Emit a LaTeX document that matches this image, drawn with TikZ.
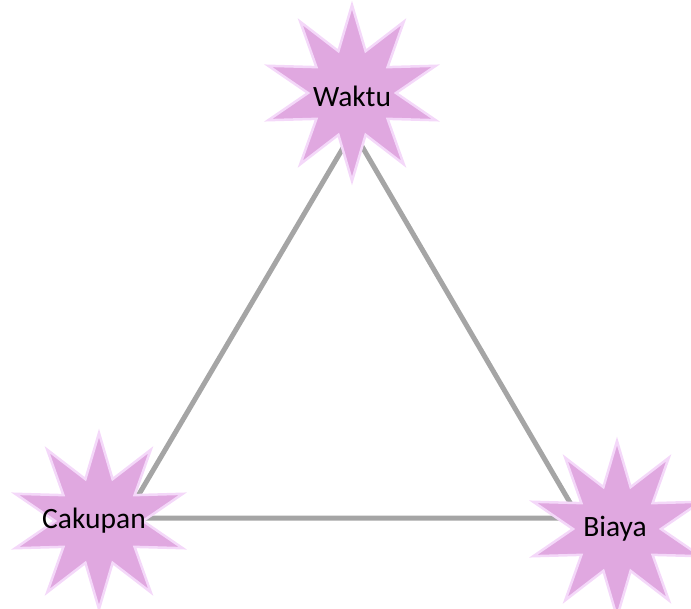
\documentclass[tikz,border=0pt]{standalone}
\usepackage{fontspec}
\setmainfont{Carlito}
\usetikzlibrary{shapes.geometric}
\definecolor{starfill}{RGB}{224,168,224}
\definecolor{starrim}{RGB}{244,216,249}
\definecolor{sidegray}{RGB}{165,165,165}
\begin{document}
\begin{tikzpicture}[x=1pt, y=-1pt,
		starnode/.style={star, star points=10, star point ratio=2, minimum size=176pt, inner sep=0pt, fill=starfill, draw=starrim, line width=2.5pt},
		every label/.style={font=\fontsize{29.5}{32}\selectfont, text=black},
		side/.style={draw=sidegray, line width=5pt}]
		\useasboundingbox (0,0) rectangle (691,609);

		% corners of the triangle
		\coordinate (top) at (353,131);
		\coordinate (left) at (125,518);
		\coordinate (right) at (579,518);
		\draw[side] (top) -- (left) -- (right) -- cycle;

		\node[starnode, label={[yshift=-3pt]center:Waktu}] (waktu) at (352,93) {};
		\node[starnode, label={[xshift=-5pt]center:Cakupan}] (cakupan) at (99,521) {};
		\node[starnode, label={[xshift=-2pt]center:Biaya}] (biaya) at (617,529) {};
	\end{tikzpicture}
\end{document}
